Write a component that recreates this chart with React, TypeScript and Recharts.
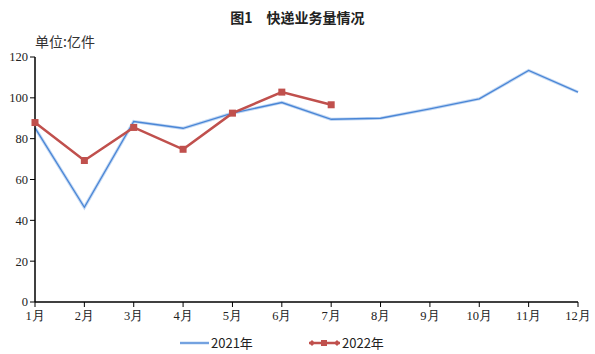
import React from 'react'
import { LineChart, Line, XAxis, YAxis } from 'recharts'

const months = ['1月', '2月', '3月', '4月', '5月', '6月', '7月', '8月', '9月', '10月', '11月', '12月']
const y2021 = [85.3, 46.4, 88.4, 85.1, 92.5, 97.7, 89.5, 90.0, 94.6, 99.5, 113.4, 102.8]
const y2022 = [87.9, 69.3, 85.5, 74.8, 92.5, 102.8, 96.6]
const yTicks = [0, 20, 40, 60, 80, 100, 120]

const BLUE = '#4a86d6'
const BLUE_HALO = '#c3d8f3'
const RED = '#c0504d'

const data = months.map((m, i) => ({
  month: m,
  a: y2021[i],
  b: i < y2022.length ? y2022[i] : null,
}))

const SquareDot = (props: any) => {
  const { cx, cy } = props
  if (cx == null || cy == null) return null
  return <rect x={cx - 3.5} y={cy - 3.5} width={7} height={7} fill={RED} />
}

function LegendRow() {
  return (
    <svg width={595} height={20} style={{ position: 'absolute', left: 0, top: 333 }}>
      <line x1={180} y1={10} x2={209} y2={10} stroke={BLUE_HALO} strokeWidth={3} />
      <line x1={180} y1={10} x2={209} y2={10} stroke={BLUE} strokeWidth={1.3} />
      <text x={211} y={15} fontSize={13} fill="#222" fontFamily="'Noto Sans CJK SC', sans-serif">2021年</text>
      <line x1={309} y1={10} x2={340} y2={10} stroke={RED} strokeWidth={2.5} />
      <path d="M309,10 l3,-3 l3,3 l-3,3 z" fill={RED} />
      <path d="M334,10 l3,-3 l3,3 l-3,3 z" fill={RED} />
      <rect x={321} y={7} width={6} height={6} fill={RED} />
      <text x={342} y={15} fontSize={13} fill="#222" fontFamily="'Noto Sans CJK SC', sans-serif">2022年</text>
    </svg>
  )
}

export default function App() {
  const tickStyle = { fontSize: 12.5, fill: '#222', fontFamily: "'Liberation Serif', serif" }
  return (
    <div style={{ position: 'absolute', left: 0, top: 0, width: 595, height: 354, background: '#fff' }}>
      <div
        style={{
          position: 'absolute',
          left: 0,
          top: 7,
          width: 595,
          textAlign: 'center',
          fontSize: 14,
          fontWeight: 'bold',
          color: '#222',
          fontFamily: "'Noto Sans CJK SC', sans-serif",
        }}
      >
        图1　快递业务量情况
      </div>
      <div
        style={{
          position: 'absolute',
          left: 35,
          top: 31,
          fontSize: 14,
          color: '#333',
          fontFamily: "'Noto Sans CJK SC', sans-serif",
        }}
      >
        单位:亿件
      </div>
      <LineChart width={595} height={354} data={data} margin={{ top: 57, right: 17, left: 0, bottom: 22 }}>
        <XAxis
          dataKey="month"
          tick={tickStyle}
          axisLine={{ stroke: '#000', strokeWidth: 1.5 }}
          tickLine={{ stroke: '#000' }}
          tickSize={5}
          tickMargin={4}
          interval={0}
          height={30}
        />
        <YAxis
          domain={[0, 120]}
          ticks={yTicks}
          tick={tickStyle}
          axisLine={{ stroke: '#000', strokeWidth: 1.5 }}
          tickLine={{ stroke: '#000' }}
          tickSize={5}
          width={35}
        />
        <Line dataKey="a" stroke={BLUE_HALO} strokeWidth={3.2} dot={false} isAnimationActive={false} legendType="none" />
        <Line dataKey="a" stroke={BLUE} strokeWidth={1.3} dot={false} isAnimationActive={false} />
        <Line dataKey="b" stroke={RED} strokeWidth={2.5} dot={<SquareDot />} isAnimationActive={false} connectNulls={false} />
      </LineChart>
      <LegendRow />
    </div>
  )
}
